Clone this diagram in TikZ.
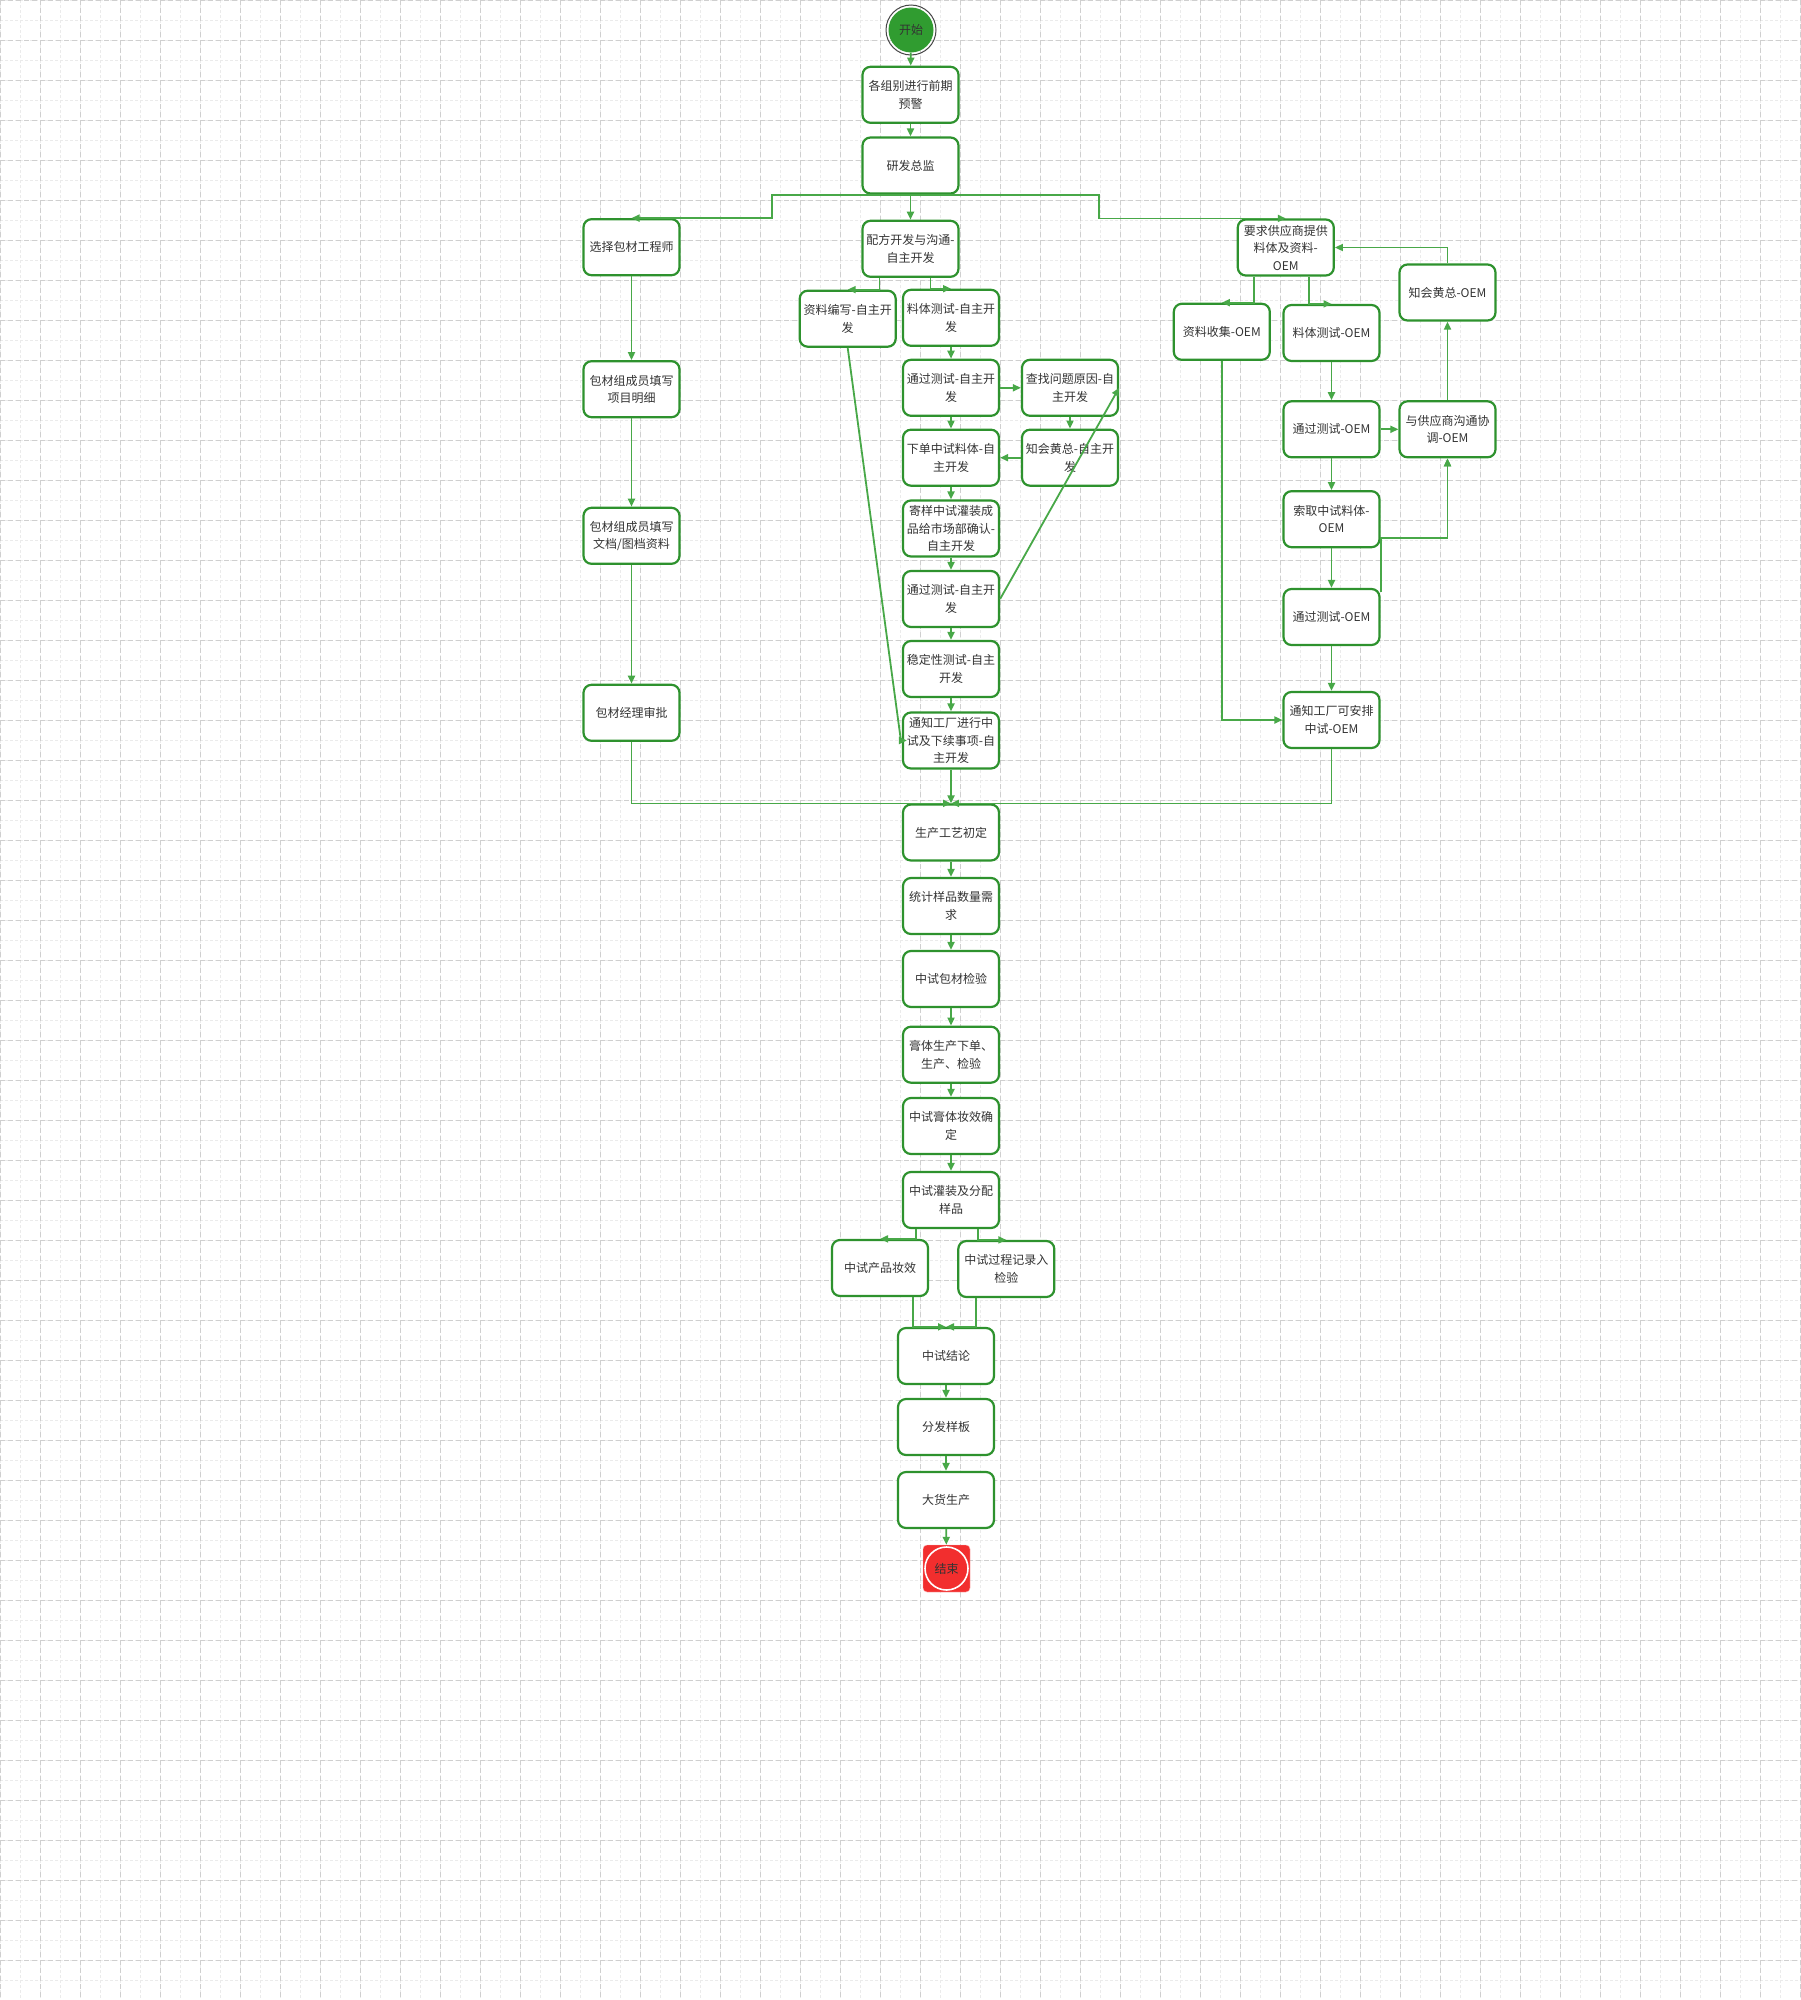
\documentclass[tikz,border=0pt]{standalone}
\usepackage{fontspec}
\usetikzlibrary{arrows.meta}
\newfontfamily\cjk{Noto Sans CJK SC}
\newcommand\flowfont{\cjk\fontsize{12pt}{17.5pt}\selectfont}
\definecolor{boxgreen}{RGB}{46,146,46}
\definecolor{linegreen}{RGB}{72,168,72}
\definecolor{startgreen}{RGB}{48,156,48}
\definecolor{endred}{RGB}{242,46,46}
\definecolor{txtgray}{RGB}{51,51,51}
\definecolor{ringgray}{RGB}{70,70,70}
\begin{document}
\begin{tikzpicture}
[x=1pt,y=-1pt,%
  boxdecorate/.style={shape=rectangle,rounded corners=8pt,draw=boxgreen,line width=2.2pt,fill=white,%
    minimum width=96pt,minimum height=56pt,inner sep=1pt,align=center,font=\flowfont,text=txtgray},%
  startdecorate/.style={shape=circle,minimum size=45pt,inner sep=0pt,fill=startgreen,font=\flowfont,text=txtgray},%
  enddecorate/.style={shape=rectangle,rounded corners=4pt,minimum size=47pt,inner sep=0pt,fill=endred,draw=red!30,font=\flowfont,text=txtgray},%
  linedecorate/.style={-{Triangle[length=8pt,width=7pt]},line width=1.8pt,draw=linegreen},%
  minorgrid/.style={gray!16,line width=0.8pt,dash pattern=on 3pt off 2pt},%
  majorgrid/.style={gray!38,line width=0.8pt,dash pattern=on 5pt off 3pt}]
\useasboundingbox (0,0) rectangle (1800,2000);
\fill[white] (0,0) rectangle (1800,2000);
%% background grid
\foreach \gx in {0,20,...,1800} {\draw[minorgrid] (\gx,0) -- (\gx,2000);}
\foreach \gy in {0,20,...,2000} {\draw[minorgrid] (0,\gy) -- (1800,\gy);}
\foreach \gx in {0,40,...,1800} {\draw[majorgrid] (\gx,0) -- (\gx,2000);}
\foreach \gy in {0,40,...,2000} {\draw[majorgrid] (0,\gy) -- (1800,\gy);}
%% start and end
\node (start) at (911,30) [startdecorate] {开始};
\draw[ringgray,line width=1pt] (start) circle (25);
\node (finish) at (946.5,1568.5) [enddecorate] {结束};
\draw[white,line width=1.6pt] (finish) circle (21.5);
%% boxes: packaging column
\foreach \nodename/\x/\y/\boxtext in {
  xzbc/631.5/247.2/{选择包材工程师},
  bcmx/631.5/389.2/{包材组成员填写\\项目明细},
  bcwd/631.5/535.8/{包材组成员填写\\文档/图档资料},
  bcsp/631.5/712.8/{包材经理审批}} {
  \node (\nodename) at (\x,\y) [boxdecorate] {\boxtext};
}
%% boxes: own development
\foreach \nodename/\x/\y/\boxtext in {
  yj/910.5/94.8/{各组别进行前期\\预警},
  zj/910.5/165.5/{研发总监},
  pf/910.5/248.8/{配方开发与沟通-\\自主开发},
  zlbx/847.7/318.7/{资料编写-自主开\\发},
  ltcs/951/317.8/{料体测试-自主开\\发},
  tgcs1/951/387.8/{通过测试-自主开\\发},
  xdzs/951/457.7/{下单中试料体-自\\主开发},
  jyzs/951/528.5/{寄样中试灌装成\\品给市场部确认-\\自主开发},
  tgcs2/951/599/{通过测试-自主开\\发},
  wdx/951/669/{稳定性测试-自主\\开发},
  tzgc/951/740.5/{通知工厂进行中\\试及下续事项-自\\主开发},
  czwt/1070/387.8/{查找问题原因-自\\主开发},
  zhhz/1070/457.7/{知会黄总-自主开\\发}} {
  \node (\nodename) at (\x,\y) [boxdecorate] {\boxtext};
}
%% boxes: OEM
\foreach \nodename/\x/\y/\boxtext in {
  yqgy/1285.8/247.5/{要求供应商提供\\料体及资料-\\OEM},
  zlsj/1221.8/331.8/{资料收集-OEM},
  ltoem/1331.5/333/{料体测试-OEM},
  hzoem/1447.5/292.5/{知会黄总-OEM},
  tgoem1/1331.5/429.3/{通过测试-OEM},
  gtxt/1447.5/429.3/{与供应商沟通协\\调-OEM},
  sqzs/1331.5/519.2/{索取中试料体-\\OEM},
  tgoem2/1331.5/617/{通过测试-OEM},
  tzoem/1331.5/720/{通知工厂可安排\\中试-OEM}} {
  \node (\nodename) at (\x,\y) [boxdecorate] {\boxtext};
}
%% boxes: pilot run
\foreach \nodename/\x/\y/\boxtext in {
  scgy/951/832.5/{生产工艺初定},
  tjyp/951/906/{统计样品数量需\\求},
  zsbc/951/979/{中试包材检验},
  gtsc/951/1054.7/{膏体生产下单、\\生产、检验},
  gtzx/951/1126/{中试膏体妆效确\\定},
  zsgz/951/1200/{中试灌装及分配\\样品},
  cpzx/880/1268/{中试产品妆效},
  gcjl/1006.3/1269/{中试过程记录入\\检验},
  zsjl/946/1356/{中试结论},
  ffyb/946/1427/{分发样板},
  dhsc/946/1500/{大货生产}} {
  \node (\nodename) at (\x,\y) [boxdecorate] {\boxtext};
}
%% bend points
\coordinate (splitL) at (771.8,206);
\coordinate (splitR) at (1098.6,206);
%% straight edges
\path
\foreach \startnode/\endnode in {start/yj, yj/zj, zj/pf, ltcs/tgcs1, tgcs1/czwt, tgcs1/xdzs,
  czwt/zhhz, zhhz/xdzs, xdzs/jyzs, jyzs/tgcs2, tgcs2/wdx, wdx/tzgc, tzgc/scgy,
  xzbc/bcmx, bcmx/bcwd, bcwd/bcsp, scgy/tjyp, tjyp/zsbc, zsbc/gtsc, gtsc/gtzx, gtzx/zsgz,
  zsjl/ffyb, ffyb/dhsc, dhsc/finish, ltoem/tgoem1, tgoem1/gtxt, gtxt/hzoem,
  tgoem1/sqzs, sqzs/tgoem2, tgoem2/tzoem} {
  (\startnode) edge[linedecorate] (\endnode)
};
%% elbow edges
\draw[linedecorate] (zj.south) -| (splitL) |- (xzbc.north);
\draw[linedecorate] (zj.south) -| (splitR) |- (yqgy.north);
\draw[linedecorate] ([xshift=-31pt]pf.south) |- (zlbx.north);
\draw[linedecorate] ([xshift=20pt]pf.south) |- (ltcs.north);
\draw[linedecorate] (bcsp.south) |- (scgy.north);
\draw[linedecorate] (tzoem.south) |- (scgy.north);
\draw[linedecorate] ([xshift=-35pt]zsgz.south) |- (cpzx.north);
\draw[linedecorate] ([xshift=27pt]zsgz.south) |- (gcjl.north);
\draw[linedecorate] ([xshift=33pt]cpzx.south) |- (zsjl.north);
\draw[linedecorate] ([xshift=-30pt]gcjl.south) |- (zsjl.north);
\draw[linedecorate] ([xshift=-32pt]yqgy.south) |- (zlsj.north);
\draw[linedecorate] ([xshift=23pt]yqgy.south) |- (ltoem.north);
\draw[linedecorate] (hzoem.north) |- (yqgy.east);
\draw[linedecorate] ([yshift=-19pt]sqzs.east) -| (gtxt.south);
\draw[linedecorate] ([yshift=-4pt]tgoem2.north east) |- ([yshift=-19pt]sqzs.east) -| (gtxt.south);
\draw[linedecorate] (zlsj.south) |- (tzoem.west);
%% diagonal edges
\draw[linedecorate] (tgcs2.east) -- (czwt.east);
\draw[linedecorate] (zlbx.south) -- ([xshift=-1pt]tzgc.west) -- ([xshift=5pt]tzgc.west);
\end{tikzpicture}
\end{document}
